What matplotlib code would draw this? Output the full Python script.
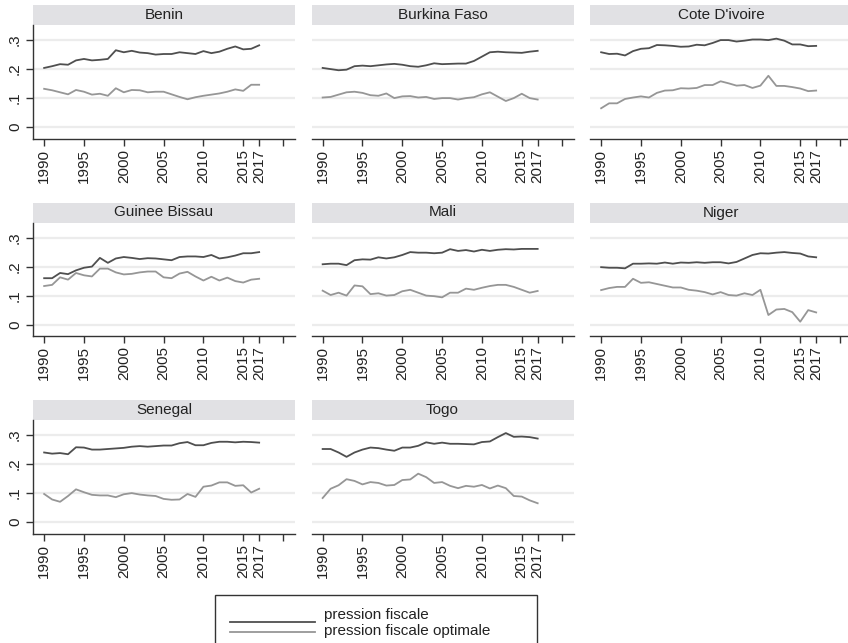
import numpy as np
import matplotlib
matplotlib.use("Agg")
import matplotlib.pyplot as plt
from matplotlib.patches import Rectangle
from matplotlib.lines import Line2D

plt.rcParams['font.family'] = ['Liberation Sans', 'DejaVu Sans']

years = list(range(1990, 2018))
countries = ["Benin", "Burkina Faso", "Cote D'ivoire", "Guinee Bissau",
             "Mali", "Niger", "Senegal", "Togo"]

# pression fiscale
pf_benin = [0.204, 0.210, 0.217, 0.215, 0.230, 0.235, 0.230, 0.232, 0.235, 0.265,
            0.258, 0.263, 0.257, 0.255, 0.250, 0.252, 0.252, 0.258, 0.255, 0.252,
            0.262, 0.255, 0.260, 0.270, 0.278, 0.268, 0.270, 0.282]
pf_burkina = [0.204, 0.200, 0.196, 0.198, 0.210, 0.212, 0.210, 0.213, 0.216, 0.218,
              0.215, 0.210, 0.208, 0.213, 0.220, 0.217, 0.218, 0.219, 0.219, 0.228,
              0.243, 0.258, 0.260, 0.258, 0.257, 0.256, 0.260, 0.263]
pf_civ = [0.258, 0.252, 0.253, 0.247, 0.262, 0.270, 0.272, 0.283, 0.282, 0.280,
          0.277, 0.278, 0.284, 0.282, 0.290, 0.300, 0.300, 0.295, 0.298, 0.302,
          0.302, 0.300, 0.305, 0.298, 0.285, 0.285, 0.279, 0.280]
pf_guinee = [0.160, 0.160, 0.178, 0.174, 0.187, 0.196, 0.200, 0.230, 0.213, 0.228,
             0.233, 0.230, 0.226, 0.229, 0.228, 0.225, 0.222, 0.233, 0.235, 0.235,
             0.233, 0.240, 0.228, 0.232, 0.238, 0.246, 0.246, 0.250]
pf_mali = [0.208, 0.210, 0.210, 0.205, 0.222, 0.225, 0.224, 0.232, 0.228, 0.232,
           0.240, 0.250, 0.248, 0.248, 0.246, 0.248, 0.260, 0.254, 0.257, 0.252,
           0.258, 0.254, 0.258, 0.260, 0.259, 0.261, 0.261, 0.261]
pf_niger = [0.198, 0.196, 0.196, 0.194, 0.210, 0.210, 0.211, 0.210, 0.214, 0.210,
            0.214, 0.213, 0.215, 0.213, 0.215, 0.215, 0.211, 0.216, 0.228, 0.240,
            0.246, 0.245, 0.248, 0.250, 0.247, 0.245, 0.235, 0.232]
pf_senegal = [0.240, 0.236, 0.238, 0.234, 0.258, 0.257, 0.250, 0.250, 0.252, 0.254,
              0.256, 0.260, 0.262, 0.260, 0.262, 0.264, 0.264, 0.272, 0.276, 0.265,
              0.265, 0.273, 0.277, 0.277, 0.275, 0.277, 0.276, 0.274]
pf_togo = [0.252, 0.252, 0.240, 0.225, 0.240, 0.250, 0.257, 0.255, 0.250, 0.246,
           0.257, 0.257, 0.263, 0.275, 0.270, 0.274, 0.270, 0.270, 0.269, 0.268,
           0.276, 0.278, 0.293, 0.307, 0.294, 0.295, 0.293, 0.288]

# pression fiscale optimale
pfo_benin = [0.132, 0.127, 0.120, 0.113, 0.128, 0.122, 0.112, 0.115, 0.108, 0.134,
             0.120, 0.128, 0.127, 0.120, 0.122, 0.122, 0.113, 0.104, 0.096, 0.103,
             0.108, 0.112, 0.116, 0.122, 0.130, 0.125, 0.146, 0.146]
pfo_burkina = [0.102, 0.104, 0.112, 0.120, 0.122, 0.118, 0.110, 0.108, 0.116, 0.100,
               0.106, 0.107, 0.102, 0.104, 0.097, 0.100, 0.100, 0.095, 0.100, 0.103,
               0.113, 0.120, 0.105, 0.090, 0.100, 0.115, 0.100, 0.095]
pfo_civ = [0.065, 0.082, 0.082, 0.097, 0.102, 0.106, 0.102, 0.118, 0.126, 0.127,
           0.134, 0.133, 0.135, 0.145, 0.145, 0.158, 0.151, 0.143, 0.145, 0.135,
           0.143, 0.177, 0.142, 0.142, 0.138, 0.133, 0.124, 0.126]
pfo_guinee = [0.133, 0.137, 0.163, 0.155, 0.178, 0.170, 0.166, 0.193, 0.193, 0.180,
              0.173, 0.175, 0.180, 0.183, 0.183, 0.163, 0.160, 0.176, 0.182, 0.166,
              0.152, 0.165, 0.152, 0.162, 0.150, 0.145, 0.155, 0.158]
pfo_mali = [0.117, 0.102, 0.110, 0.100, 0.135, 0.132, 0.105, 0.108, 0.100, 0.102,
            0.115, 0.120, 0.110, 0.100, 0.098, 0.094, 0.110, 0.110, 0.124, 0.120,
            0.127, 0.133, 0.137, 0.137, 0.130, 0.120, 0.110, 0.116]
pfo_niger = [0.119, 0.126, 0.130, 0.130, 0.158, 0.144, 0.146, 0.140, 0.134, 0.128,
             0.128, 0.120, 0.117, 0.112, 0.104, 0.112, 0.102, 0.100, 0.108, 0.102,
             0.120, 0.033, 0.052, 0.054, 0.043, 0.010, 0.050, 0.042]
pfo_senegal = [0.097, 0.078, 0.070, 0.090, 0.113, 0.103, 0.094, 0.092, 0.092, 0.086,
               0.096, 0.100, 0.095, 0.092, 0.090, 0.080, 0.077, 0.078, 0.097, 0.087,
               0.122, 0.126, 0.137, 0.137, 0.125, 0.127, 0.102, 0.115]
pfo_togo = [0.083, 0.115, 0.127, 0.148, 0.142, 0.130, 0.138, 0.135, 0.126, 0.128,
            0.145, 0.147, 0.167, 0.155, 0.135, 0.138, 0.125, 0.117, 0.125, 0.122,
            0.128, 0.116, 0.126, 0.117, 0.090, 0.088, 0.075, 0.065]

pf = [pf_benin, pf_burkina, pf_civ, pf_guinee, pf_mali, pf_niger, pf_senegal, pf_togo]
pfo = [pfo_benin, pfo_burkina, pfo_civ, pfo_guinee, pfo_mali, pfo_niger, pfo_senegal, pfo_togo]

xticks = [1990, 1995, 2000, 2005, 2010, 2015, 2017, 2020]
xticklabels = ["1990", "1995", "2000", "2005", "2010", "2015", "2017", ""]
yticks = [0, 0.1, 0.2, 0.3]
yticklabels = ["0", ".1", ".2", ".3"]

W, H = 848, 643
dark = "#4f4f4f"
light = "#969696"
strip_col = "#e1e1e4"
grid_col = "#ececec"
txt = "#222222"
fs = 11

fig = plt.figure(figsize=(W / 100, H / 100), dpi=100)
fig.patch.set_facecolor("white")


def fbox(x0, y0, x1, y1):
    # pixel box (top-left origin) -> figure fraction rect
    return [x0 / W, 1 - y1 / H, (x1 - x0) / W, (y1 - y0) / H]


for i, name in enumerate(countries):
    row, col = divmod(i, 3)
    left = 33 + col * 278.5
    top = 25 + row * 197.5
    bottom = 139 + row * 197.5
    ax = fig.add_axes(fbox(left, top, left + 262, bottom))

    ax.plot(years, pf[i], color=dark, lw=1.3, zorder=3)
    ax.plot(years, pfo[i], color=light, lw=1.3, zorder=3)

    ax.set_xlim(1988.6, 2021.5)
    ax.set_ylim(-0.041, 0.352)
    ax.set_yticks(yticks)
    for v in yticks:
        ax.axhline(v, color=grid_col, lw=1.6, zorder=1)

    ax.set_xticks(xticks)
    ax.set_xticklabels(xticklabels, rotation=90, fontsize=fs, color=txt)
    ax.tick_params(axis="x", length=5, width=1, color="#333333", pad=2)

    for s in ["top", "right"]:
        ax.spines[s].set_visible(False)
    ax.spines["bottom"].set_color("#333333")
    ax.spines["bottom"].set_linewidth(1)
    if col == 0:
        ax.set_yticklabels(yticklabels, rotation=90, fontsize=fs,
                           color=txt, va="center")
        ax.tick_params(axis="y", length=5, width=1, color="#333333", pad=3)
        ax.spines["left"].set_color("#333333")
        ax.spines["left"].set_linewidth(1)
    else:
        ax.spines["left"].set_visible(False)
        ax.tick_params(axis="y", length=0, labelleft=False)

    # panel header strip
    sh = 20 / 114
    ax.add_patch(Rectangle((0, 1), 1, sh, transform=ax.transAxes,
                           facecolor=strip_col, edgecolor="none", clip_on=False))
    ax.text(0.5, 1 + sh / 2, name, transform=ax.transAxes, ha="center",
            va="center", fontsize=fs, color=txt)

# legend box at bottom
fig.add_artist(Rectangle((215 / W, 1 - 660 / H), 322 / W, 65 / H,
                         transform=fig.transFigure, facecolor="white",
                         edgecolor="#333333", lw=1))
fig.add_artist(Line2D([230 / W, 315 / W], [1 - 621.5 / H, 1 - 621.5 / H],
                      transform=fig.transFigure, color=dark, lw=1.3))
fig.add_artist(Line2D([230 / W, 315 / W], [1 - 632 / H, 1 - 632 / H],
                      transform=fig.transFigure, color=light, lw=1.3))
fig.text(324 / W, 1 - 615 / H, "pression fiscale", fontsize=fs,
         va="center", color=txt)
fig.text(324 / W, 1 - 631.5 / H, "pression fiscale optimale", fontsize=fs,
         va="center", color=txt)

fig.savefig("out.png", dpi=100)
